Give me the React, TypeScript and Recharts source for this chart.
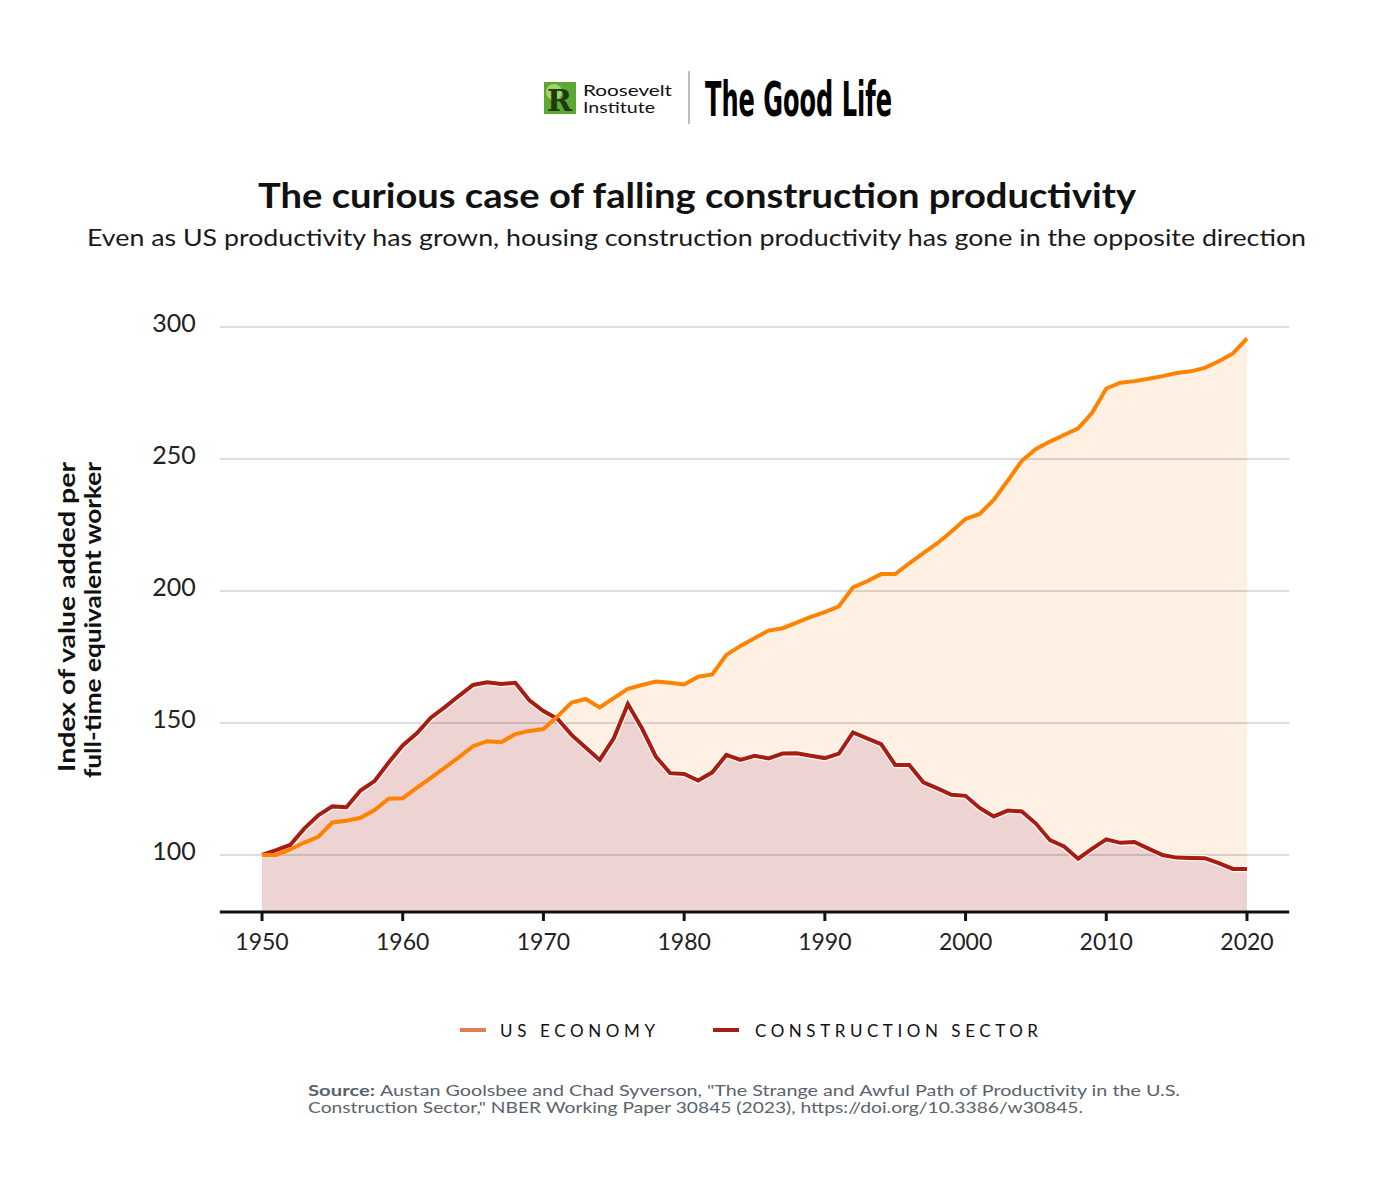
import React from 'react';
import {
  ComposedChart,
  Area,
  Line,
  XAxis,
  YAxis,
  ReferenceLine,
} from 'recharts';

const YEARS = [
  1950, 1951, 1952, 1953, 1954, 1955, 1956, 1957, 1958, 1959,
  1960, 1961, 1962, 1963, 1964, 1965, 1966, 1967, 1968, 1969,
  1970, 1971, 1972, 1973, 1974, 1975, 1976, 1977, 1978, 1979,
  1980, 1981, 1982, 1983, 1984, 1985, 1986, 1987, 1988, 1989,
  1990, 1991, 1992, 1993, 1994, 1995, 1996, 1997, 1998, 1999,
  2000, 2001, 2002, 2003, 2004, 2005, 2006, 2007, 2008, 2009,
  2010, 2011, 2012, 2013, 2014, 2015, 2016, 2017, 2018, 2019,
  2020,
];

// Index, 1950 = 100
const US_ECONOMY = [
  100, 100, 102.1, 104.7, 106.9, 112.3, 113.0, 114.1, 117.0, 121.3,
  121.5, 125.4, 129.2, 133.1, 137.1, 141.2, 143.1, 142.7, 145.8, 147.0,
  147.7, 152.5, 157.7, 159.1, 155.9, 159.4, 162.9, 164.4, 165.7, 165.2,
  164.6, 167.5, 168.4, 175.8, 179.2, 182.1, 185.0, 185.9, 188.0, 190.2,
  192.0, 194.2, 201.4, 203.7, 206.4, 206.4, 210.5, 214.3, 218.1, 222.5,
  227.3, 229.2, 234.5, 241.8, 249.3, 253.8, 256.6, 259.1, 261.6, 267.5,
  276.7, 278.9, 279.5, 280.4, 281.4, 282.6, 283.2, 284.5, 287.0, 290.0,
  295.7,
];

const CONSTRUCTION = [
  100, 101.8, 103.8, 110.0, 115.0, 118.4, 118.1, 124.4, 128.0, 135.0,
  141.5, 146.1, 152.0, 156.0, 160.3, 164.4, 165.4, 164.8, 165.2, 158.6,
  154.5, 151.6, 145.5, 140.7, 136.0, 144.2, 157.2, 148.0, 137.2, 131.0,
  130.7, 128.2, 131.3, 137.9, 136.0, 137.6, 136.6, 138.4, 138.5, 137.6,
  136.7, 138.4, 146.4, 144.2, 142.0, 134.1, 134.1, 127.5, 125.2, 122.8,
  122.4, 117.8, 114.6, 116.8, 116.5, 111.9, 105.6, 103.2, 98.6, 102.4,
  105.9, 104.6, 104.9, 102.4, 100.0, 99.0, 98.9, 98.8, 96.9, 94.7,
  94.7,
];

const X_TICKS = [1950, 1960, 1970, 1980, 1990, 2000, 2010, 2020];
const Y_TICKS = [100, 150, 200, 250, 300];

const data = YEARS.map((year, i) => ({
  year,
  us: US_ECONOMY[i],
  construction: CONSTRUCTION[i],
}));

const FONT = 'Lato, "Open Sans", sans-serif';
const ORANGE = '#FF8300';
const RED = '#A71D12';

// svg text squeezed/stretched to the width it has in the original
function FitText({ x, y, w, size, weight = 400, fill = '#111', anchor = 'start', children, spacing = false }: any) {
  return (
    <text
      x={x}
      y={y}
      fontFamily={FONT}
      fontSize={size}
      fontWeight={weight}
      fill={fill}
      textAnchor={anchor}
      textLength={w}
      lengthAdjust={spacing ? 'spacing' : 'spacingAndGlyphs'}
    >
      {children}
    </text>
  );
}

function Texts() {
  return (
    <svg width={1395} height={1193} style={{ position: 'absolute', left: 0, top: 0, pointerEvents: 'none' }}>
      {/* logo */}
      <rect x={544} y={82} width={32} height={32} fill="#5DA832" />
      <circle cx={554} cy={92} r={8} fill="#A6D36C" />
      <text x={547} y={111} fontFamily="DejaVu Serif" fontWeight={700} fontSize={30} fill="#1E3A10">R</text>
      <FitText x={583} y={96} w={89} size={16}>Roosevelt</FitText>
      <FitText x={583} y={113} w={72} size={16}>Institute</FitText>
      <line x1={689} y1={71} x2={689} y2={124} stroke="#A9A9A9" strokeWidth={1.5} />
      <text
        x={705}
        y={116}
        fontFamily='"Liberation Sans Narrow", "DejaVu Sans Condensed", sans-serif'
        fontWeight={700}
        fontSize={48}
        textLength={187}
        lengthAdjust="spacingAndGlyphs"
        fill="#000"
      >
        The Good Life
      </text>

      {/* title + subtitle */}
      <FitText x={258} y={208} w={878} size={35} weight={700}>
        The curious case of falling construction productivity
      </FitText>
      <FitText x={87} y={246} w={1219} size={24} fill="#1a1a1a">
        Even as US productivity has grown, housing construction productivity has gone in the opposite direction
      </FitText>

      {/* y axis title */}
      <g transform="translate(75,617) rotate(-90)">
        <FitText x={0} y={0} w={310} size={23} weight={700} anchor="middle">
          Index of value added per
        </FitText>
      </g>
      <g transform="translate(101,620) rotate(-90)">
        <FitText x={0} y={0} w={316} size={23} weight={700} anchor="middle">
          full-time equivalent worker
        </FitText>
      </g>

      {/* legend */}
      <rect x={460} y={1028} width={26} height={4} fill="#E27D5C" />
      <FitText x={500} y={1037} w={155} size={17} spacing>US ECONOMY</FitText>
      <rect x={713} y={1028} width={26} height={4} fill={RED} />
      <FitText x={755} y={1037} w={283} size={17} spacing>CONSTRUCTION SECTOR</FitText>

      {/* source */}
      <FitText x={308} y={1096} w={67} size={16} weight={700} fill="#59636D">Source:</FitText>
      <FitText x={380} y={1096} w={800} size={16} fill="#59636D">
        Austan Goolsbee and Chad Syverson, "The Strange and Awful Path of Productivity in the U.S.
      </FitText>
      <FitText x={308} y={1113} w={775} size={16} fill="#59636D">
        Construction Sector," NBER Working Paper 30845 (2023), https://doi.org/10.3386/w30845.
      </FitText>
    </svg>
  );
}

export default function App() {
  return (
    <div
      style={{
        position: 'absolute',
        left: 0,
        top: 0,
        width: 1395,
        height: 1193,
        background: '#fff',
        fontFamily: FONT,
        overflow: 'hidden',
      }}
    >
      <div style={{ position: 'absolute', left: 0, top: 0 }}>
        <ComposedChart
          width={1395}
          height={1000}
          data={data}
          margin={{ top: 327, right: 105.8, bottom: 48, left: 139.8 }}
        >
          <XAxis
            dataKey="year"
            type="number"
            domain={[1947, 2023]}
            ticks={X_TICKS}
            height={40}
            axisLine={{ stroke: '#111', strokeWidth: 3 }}
            tickLine={{ stroke: '#111', strokeWidth: 3 }}
            tickSize={9}
            tickMargin={13}
            tick={{ fill: '#222', fontSize: 23, fontFamily: FONT }}
          />
          <YAxis
            type="number"
            domain={[78.4, 300]}
            ticks={Y_TICKS}
            width={80}
            axisLine={false}
            tickLine={false}
            tickSize={0}
            tickMargin={24}
            tick={{ fill: '#222', fontSize: 25, fontFamily: FONT, dy: -4 }}
          />
          <Area
            dataKey="us"
            type="linear"
            stroke="none"
            fill="#FEF0E3"
            fillOpacity={1}
            isAnimationActive={false}
            legendType="none"
          />
          <Area
            dataKey="construction"
            type="linear"
            stroke="none"
            fill="#EDD3D1"
            fillOpacity={1}
            isAnimationActive={false}
            legendType="none"
          />
          {Y_TICKS.map((v) => (
            <ReferenceLine key={v} y={v} stroke="rgba(60,40,40,0.17)" strokeWidth={2} />
          ))}
          <Line
            dataKey="construction"
            type="linear"
            stroke="rgba(255,255,255,0.85)"
            strokeWidth={6.5}
            dot={false}
            activeDot={false}
            isAnimationActive={false}
            legendType="none"
          />
          <Line
            dataKey="construction"
            type="linear"
            stroke={RED}
            strokeWidth={4}
            strokeLinejoin="miter"
            dot={false}
            activeDot={false}
            isAnimationActive={false}
          />
          <Line
            dataKey="us"
            type="linear"
            stroke={ORANGE}
            strokeWidth={4}
            strokeLinejoin="miter"
            dot={false}
            activeDot={false}
            isAnimationActive={false}
          />
        </ComposedChart>
      </div>

      <Texts />
    </div>
  );
}
